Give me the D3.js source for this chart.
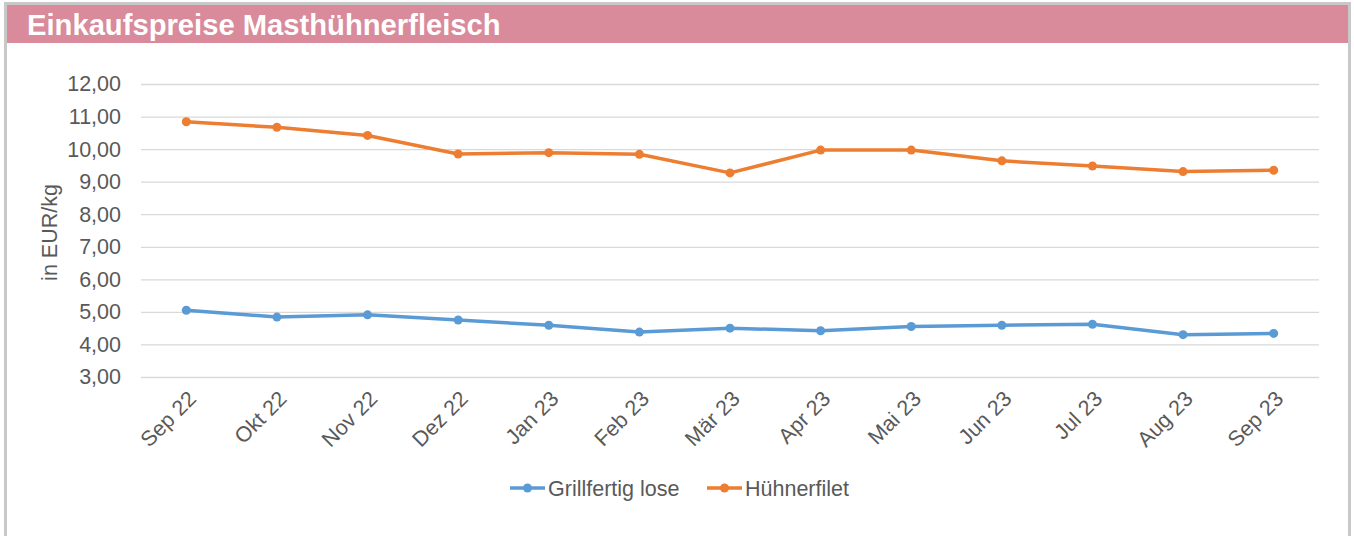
<!DOCTYPE html>
<html>
<head>
<meta charset="utf-8">
<script src="https://cdn.jsdelivr.net/npm/d3@7"></script>
<style>
  body { margin: 0; background: #fff; }
  svg { display: block; font-family: Arial, "Liberation Sans", sans-serif; }
</style>
</head>
<body>
<div id="chart"></div>
<script>
// data
const MONTHS = ["Sep 22", "Okt 22", "Nov 22", "Dez 22", "Jan 23", "Feb 23", "Mär 23",
                "Apr 23", "Mai 23", "Jun 23", "Jul 23", "Aug 23", "Sep 23"];
const GRILLFERTIG = [5.05, 4.84, 4.91, 4.75, 4.59, 4.38, 4.50, 4.42, 4.55, 4.59, 4.62, 4.30, 4.34];
const FILET = [10.84, 10.67, 10.42, 9.85, 9.89, 9.84, 9.27, 9.97, 9.97, 9.64, 9.48, 9.31, 9.35];
const Y_TICKS = [3, 4, 5, 6, 7, 8, 9, 10, 11, 12];

const SERIES = [
  {name: "Grillfertig lose", values: GRILLFERTIG, color: "#5b9bd5"},
  {name: "Hühnerfilet", values: FILET, color: "#ed7d31"}
];

const F_WIDTH = 1354;
const F_HEIGHT = 536;
const MARGINS = {left: 141, right: 35, top: 84, bottom: 159};

const VIS_WIDTH = F_WIDTH - MARGINS.left - MARGINS.right;
const VIS_HEIGHT = F_HEIGHT - MARGINS.top - MARGINS.bottom;

const FONT = 21.5;

const FRAME = d3.select("#chart")
  .append("svg")
    .attr("width", F_WIDTH)
    .attr("height", F_HEIGHT);

// outer grey frame + title bar
FRAME.append("rect")
  .attr("x", 5.5).attr("y", 3.5)
  .attr("width", 1344).attr("height", 540)
  .attr("fill", "#fff")
  .attr("stroke", "#c8c8c8")
  .attr("stroke-width", 3);

FRAME.append("rect")
  .attr("x", 7).attr("y", 5)
  .attr("width", 1341).attr("height", 38)
  .attr("fill", "#d98a9b");

FRAME.append("text")
  .attr("x", 27).attr("y", 35)
  .attr("fill", "#fff")
  .attr("font-weight", "bold")
  .attr("font-size", 29.2)
  .text("Einkaufspreise Masthühnerfleisch");

const X_SCALE = d3.scaleBand()
  .domain(MONTHS)
  .range([0, VIS_WIDTH]);

const Y_SCALE = d3.scaleLinear()
  .domain([3, 12])
  .range([VIS_HEIGHT, 0]);

const G = FRAME.append("g")
  .attr("transform", "translate(" + MARGINS.left + "," + MARGINS.top + ")");

// gridlines + y labels
const yAxis = G.append("g")
  .call(d3.axisLeft(Y_SCALE)
    .tickValues(Y_TICKS)
    .tickSize(-VIS_WIDTH)
    .tickPadding(20)
    .tickFormat(d => d3.format(".2f")(d).replace(".", ",")));
yAxis.select(".domain").remove();
yAxis.selectAll("line").attr("stroke", "#d9d9d9").attr("stroke-width", 1.3);
yAxis.selectAll("text")
  .attr("fill", "#595959")
  .attr("font-size", FONT)
  .attr("font-family", "Arial, 'Liberation Sans', sans-serif");

// x labels
const xAxis = G.append("g")
  .attr("transform", "translate(0," + VIS_HEIGHT + ")")
  .call(d3.axisBottom(X_SCALE).tickSize(0));
xAxis.select(".domain").remove();
xAxis.selectAll("text")
  .attr("fill", "#595959")
  .attr("font-size", FONT)
  .attr("font-family", "Arial, 'Liberation Sans', sans-serif")
  .attr("text-anchor", "end")
  .attr("dy", 0)
  .attr("transform", "translate(9,21) rotate(-45)");

// axis title
FRAME.append("text")
  .attr("transform", "translate(57," + (MARGINS.top + VIS_HEIGHT / 2 + 2) + ") rotate(-90)")
  .attr("text-anchor", "middle")
  .attr("fill", "#595959")
  .attr("font-size", FONT)
  .text("in EUR/kg");

const line = d3.line()
  .x((d, i) => X_SCALE(MONTHS[i]) + X_SCALE.bandwidth() / 2)
  .y(d => Y_SCALE(d));

SERIES.forEach(s => {
  G.append("path")
    .datum(s.values)
    .attr("fill", "none")
    .attr("stroke", s.color)
    .attr("stroke-width", 3.5)
    .attr("stroke-linejoin", "round")
    .attr("d", line);

  G.selectAll(null)
    .data(s.values)
    .enter()
    .append("circle")
      .attr("cx", (d, i) => X_SCALE(MONTHS[i]) + X_SCALE.bandwidth() / 2)
      .attr("cy", d => Y_SCALE(d))
      .attr("r", 4.5)
      .attr("fill", s.color);
});

// legend
const LEGEND_X = [510, 707];
const legend = FRAME.append("g").attr("transform", "translate(0,488)");
SERIES.forEach((s, i) => {
  const lg = legend.append("g").attr("transform", "translate(" + LEGEND_X[i] + ",0)");
  lg.append("line")
    .attr("x1", 0).attr("x2", 35)
    .attr("stroke", s.color).attr("stroke-width", 3.5);
  lg.append("circle")
    .attr("cx", 17.5).attr("r", 4.5).attr("fill", s.color);
  lg.append("text")
    .attr("x", 38).attr("y", 7.5)
    .attr("fill", "#595959")
    .attr("font-size", FONT)
    .text(s.name);
});
</script>
</body>
</html>
